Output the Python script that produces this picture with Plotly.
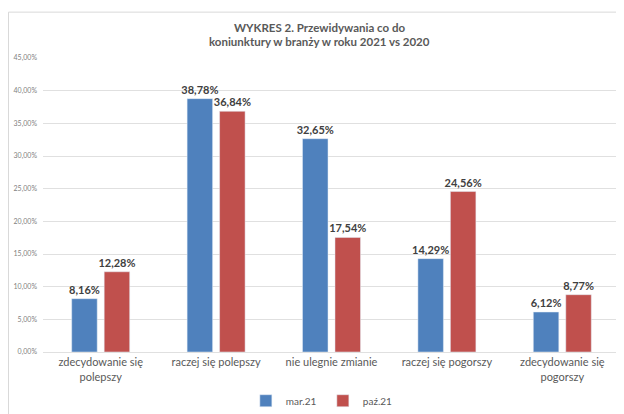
import plotly.graph_objects as go

categories = ["zdecydowanie się<br>polepszy", "raczej się polepszy", "nie ulegnie zmianie",
              "raczej się pogorszy", "zdecydowanie się<br>pogorszy"]
mar21 = [8.16, 38.78, 32.65, 14.29, 6.12]
paz21 = [12.28, 36.84, 17.54, 24.56, 8.77]
series_names = ["mar.21", "paź.21"]
y_ticks = [0, 5, 10, 15, 20, 25, 30, 35, 40, 45]
title_lines = ["WYKRES 2. Przewidywania co do", "koniunktury w branży w roku 2021 vs 2020"]

def fmt(v):
    return f"{v:.2f}%".replace(".", ",")

FONT = "Lato, Liberation Sans, Arial, sans-serif"
GRAY = "#595959"

fig = go.Figure()
for name, vals, col in [(series_names[0], mar21, "#4F81BD"), (series_names[1], paz21, "#C0504D")]:
    fig.add_trace(go.Bar(
        x=categories, y=vals, name=name, marker_color=col,
        text=[fmt(v) for v in vals], textposition="outside", constraintext="none",
        textfont=dict(family=FONT, size=11, color="#404040"),
        texttemplate="<b>%{text}</b>", cliponaxis=False,
    ))

fig.update_layout(
    width=624, height=414,
    paper_bgcolor="white", plot_bgcolor="white",
    margin=dict(l=35, r=12, t=49.5, b=70, autoexpand=False),
    barmode="group", bargap=0.437, bargroupgap=0.215,
    font=dict(family=FONT, color=GRAY),
    showlegend=True,
    legend=dict(orientation="h", x=0.485, xanchor="center", yref="container", y=0.0514,
                yanchor="middle",
                font=dict(family=FONT, size=10, color=GRAY),
                traceorder="normal", entrywidth=32, itemwidth=30),
    yaxis=dict(range=[0, 45], tickvals=y_ticks, ticktext=[fmt(t) for t in y_ticks],
               showgrid=True, gridcolor="#E0E0E0", gridwidth=1, zeroline=False, automargin=False,
               tickfont=dict(family=FONT, size=7, color="#7F7F7F"), ticks="", showline=False,
               ticklabelstandoff=5),
    xaxis=dict(tickfont=dict(family=FONT, size=11, color=GRAY), showline=True, automargin=False,
               linecolor="#E0E0E0", ticks=""),
    annotations=[
        dict(text=f"<b>{title_lines[0]}</b>", xref="paper", yref="paper", x=0.479, y=1.1036,
             xanchor="center", yanchor="middle", showarrow=False,
             font=dict(family=FONT, size=11.5, color=GRAY)),
        dict(text=f"<b>{title_lines[1]}</b>", xref="paper", yref="paper", x=0.479, y=1.056,
             xanchor="center", yanchor="middle", showarrow=False,
             font=dict(family=FONT, size=11.5, color=GRAY)),
    ],
    shapes=[
        dict(type="line", xref="paper", yref="paper", x0=-0.0598, x1=-0.0598, y0=-0.3, y1=1.156,
             line=dict(color="#D9D9D9", width=1)),
        dict(type="line", xref="paper", yref="paper", x0=-0.0598, x1=1.05, y0=1.156, y1=1.156,
             line=dict(color="#D9D9D9", width=1)),
    ],
)

fig.write_html("out.html")
